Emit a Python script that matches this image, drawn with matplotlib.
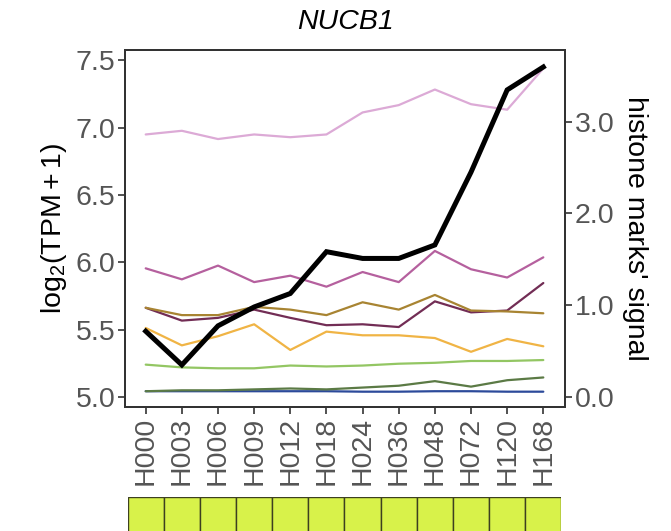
import matplotlib
matplotlib.use("Agg")
import matplotlib.pyplot as plt

plt.rcParams['font.family'] = ['Liberation Sans', 'DejaVu Sans']
plt.rcParams['mathtext.fontset'] = 'custom'
plt.rcParams['mathtext.rm'] = 'Liberation Sans'
plt.rcParams['mathtext.it'] = 'Liberation Sans:italic'

timepoints = ["H000", "H003", "H006", "H009", "H012", "H018", "H024", "H036", "H048", "H072", "H120", "H168"]

expression = [5.49, 5.24, 5.53, 5.67, 5.77, 6.08, 6.03, 6.03, 6.13, 6.67, 7.28, 7.45]

mark_pink = [2.86, 2.90, 2.81, 2.86, 2.83, 2.86, 3.10, 3.18, 3.35, 3.19, 3.13, 3.58]
mark_mauve = [1.40, 1.28, 1.43, 1.25, 1.32, 1.20, 1.36, 1.25, 1.59, 1.39, 1.30, 1.52]
mark_gold = [0.97, 0.89, 0.89, 0.98, 0.95, 0.89, 1.03, 0.95, 1.11, 0.94, 0.93, 0.91]
mark_maroon = [0.97, 0.83, 0.86, 0.95, 0.86, 0.78, 0.79, 0.76, 1.04, 0.92, 0.94, 1.24]
mark_orange = [0.75, 0.56, 0.66, 0.79, 0.51, 0.71, 0.67, 0.67, 0.64, 0.49, 0.63, 0.55]
mark_lightgreen = [0.35, 0.32, 0.31, 0.31, 0.34, 0.33, 0.34, 0.36, 0.37, 0.39, 0.39, 0.40]
mark_darkgreen = [0.06, 0.07, 0.07, 0.08, 0.09, 0.08, 0.10, 0.12, 0.17, 0.11, 0.18, 0.21]
mark_blue = [0.06, 0.06, 0.06, 0.06, 0.06, 0.06, 0.055, 0.055, 0.06, 0.06, 0.055, 0.055]

marks = [
    (mark_blue, "#2c4a9a"),
    (mark_darkgreen, "#5b7a45"),
    (mark_lightgreen, "#93c663"),
    (mark_orange, "#f0b445"),
    (mark_maroon, "#722d55"),
    (mark_gold, "#a88432"),
    (mark_mauve, "#b5609e"),
    (mark_pink, "#dcaad6"),
]

W, H = 671, 531
fig = plt.figure(figsize=(W / 100, H / 100), dpi=100)

x = list(range(len(timepoints)))
left_px, right_px, top_px, bot_px = 125, 565, 50, 407
ax = fig.add_axes([left_px / W, 1 - bot_px / H, (right_px - left_px) / W, (bot_px - top_px) / H])
ax2 = ax.twinx()

for vals, col in marks:
    ax2.plot(x, vals, color=col, lw=1.6, solid_capstyle='round')
ax.plot(x, expression, color="black", lw=3.6, solid_joinstyle='miter')

ax.set_zorder(ax2.get_zorder() + 1)
ax.patch.set_visible(False)

ax.set_xlim(-0.573, 11.6)
ax.set_ylim(4.928, 7.576)
ax2.set_ylim(-0.112, 3.781)

ax.set_yticks([5.0, 5.5, 6.0, 6.5, 7.0, 7.5])
ax.set_yticklabels(["5.0", "5.5", "6.0", "6.5", "7.0", "7.5"])
ax2.set_yticks([0, 1, 2, 3])
ax2.set_yticklabels(["0.0", "1.0", "2.0", "3.0"])
ax.set_xticks(x)
ax.set_xticklabels(timepoints, rotation=90)

tick_color = "#555555"
for a in (ax, ax2):
    a.tick_params(axis='both', labelsize=20.5, colors="#333333", labelcolor=tick_color,
                  length=5, width=1.2, pad=2)
    for s in a.spines.values():
        s.set_color("#333333")
        s.set_linewidth(1.4)

ax.set_ylabel(r"$\mathrm{log}_{2}(\mathrm{TPM}+1)$", fontsize=20.5, color="black", labelpad=5)
ax2.set_ylabel("histone marks' signal", fontsize=20.5, color="black", rotation=270, labelpad=24)
ax.set_title("NUCB1", fontsize=20.5, fontstyle='italic', pad=15)

# colour strip below the x labels
sax = fig.add_axes([127.6 / W, -0.02, (561.4 - 127.6) / W, 0.02 + 1 - 497 / H])
sax.bar(x, [1] * len(x), width=1.0, color="#d8f24a", edgecolor="#3d4020", linewidth=1.0)
sax.set_xlim(-0.5, 11.5)
sax.set_ylim(0, 1)
sax.axis('off')

fig.savefig("out.png", dpi=100)
